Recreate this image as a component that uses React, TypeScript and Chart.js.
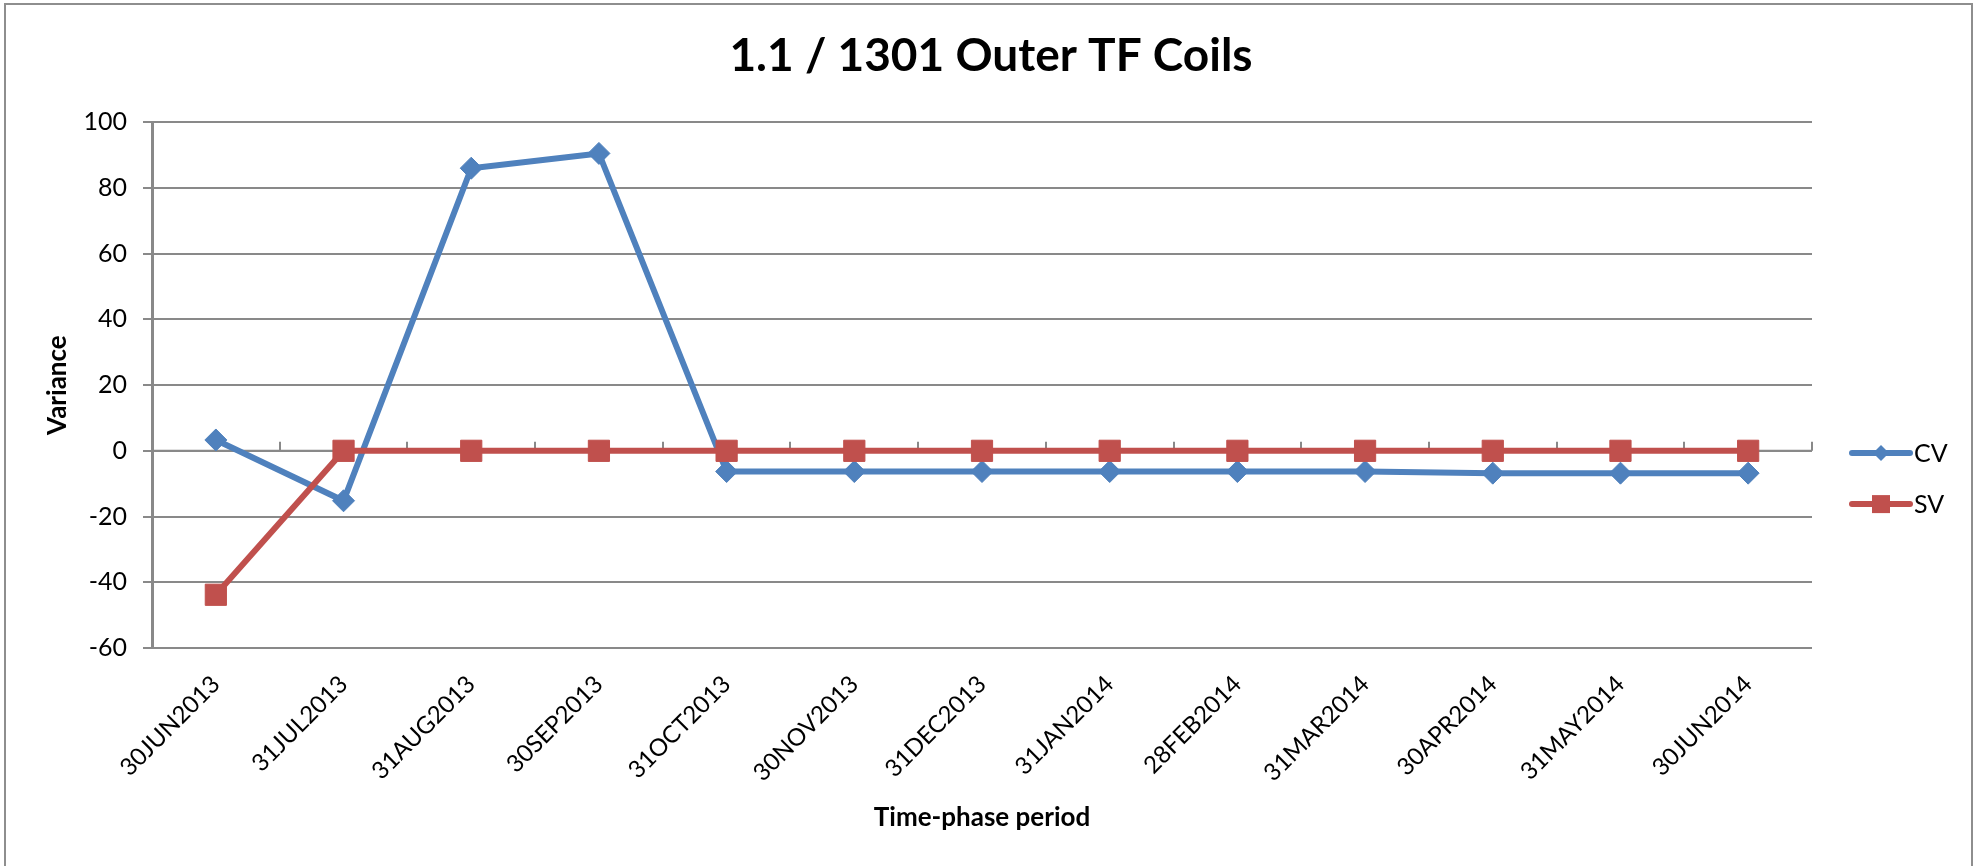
import React, { useEffect, useRef } from "react";
import { Chart, registerables } from "chart.js";

Chart.register(...registerables);

const categories = [
  "30JUN2013", "31JUL2013", "31AUG2013", "30SEP2013", "31OCT2013", "30NOV2013",
  "31DEC2013", "31JAN2014", "28FEB2014", "31MAR2014", "30APR2014", "31MAY2014", "30JUN2014",
];
const cvValues = [3.3, -15.2, 86, 90.5, -6.3, -6.3, -6.3, -6.3, -6.3, -6.3, -6.8, -6.8, -6.8];
const svValues = [-43.8, 0, 0, 0, 0, 0, 0, 0, 0, 0, 0, 0, 0];
const yMin = -60;
const yMax = 100;
const yStep = 20;

const CV_COLOR = "#4F81BD";
const SV_COLOR = "#C0504D";
const GRID = "#898989";
const FONT = "Lato, 'Open Sans', sans-serif";

const W = 1982;
const H = 866;

const framePlugin = {
  id: "frame",
  beforeDraw(chart: any) {
    const ctx = chart.ctx;
    ctx.save();
    ctx.fillStyle = "#ffffff";
    ctx.fillRect(0, 0, chart.width, chart.height);
    ctx.strokeStyle = "#8e8e8e";
    ctx.lineWidth = 2;
    ctx.strokeRect(5, 4, chart.width - 10 - 5, chart.height + 20);
    ctx.restore();
  },
};

const zeroAxisPlugin = {
  id: "zeroAxis",
  beforeDatasetsDraw(chart: any) {
    const { ctx, chartArea } = chart;
    const xs = chart.scales.x;
    const ys = chart.scales.y;
    const y0 = ys.getPixelForValue(0);
    const half = (xs.getPixelForValue(1) - xs.getPixelForValue(0)) / 2;
    ctx.save();
    ctx.strokeStyle = GRID;
    ctx.lineWidth = 2;
    ctx.beginPath();
    ctx.moveTo(chartArea.left, y0);
    ctx.lineTo(chartArea.right, y0);
    for (let i = 0; i <= categories.length; i++) {
      const x = Math.round(xs.getPixelForValue(i) - half);
      ctx.moveTo(x, y0);
      ctx.lineTo(x, y0 - 9);
    }
    ctx.stroke();
    ctx.restore();
  },
};

const legendPlugin = {
  id: "customLegend",
  afterDraw(chart: any) {
    const { ctx, chartArea } = chart;
    const x0 = chartArea.right + 40;
    const lineLen = 58;
    const cy = (chartArea.top + chartArea.bottom) / 2;
    const rows = [cy + 68, cy + 119];
    chart.data.datasets.forEach((ds: any, i: number) => {
      const y = rows[i];
      ctx.save();
      ctx.strokeStyle = ds.borderColor;
      ctx.lineWidth = 6;
      ctx.lineCap = "round";
      ctx.beginPath();
      ctx.moveTo(x0, y);
      ctx.lineTo(x0 + lineLen, y);
      ctx.stroke();
      ctx.fillStyle = ds.backgroundColor;
      const mx = x0 + lineLen / 2;
      ctx.beginPath();
      if (ds.pointStyle === "rectRot") {
        const r = 8;
        ctx.moveTo(mx - r, y);
        ctx.lineTo(mx, y - r);
        ctx.lineTo(mx + r, y);
        ctx.lineTo(mx, y + r);
        ctx.closePath();
      } else {
        const s = 9;
        ctx.rect(mx - s, y - s, 2 * s, 2 * s);
      }
      ctx.fill();
      ctx.fillStyle = "#000";
      ctx.font = `25px ${FONT}`;
      ctx.textAlign = "left";
      ctx.textBaseline = "middle";
      ctx.fillText(ds.label, x0 + lineLen + 4, y + 1);
      ctx.restore();
    });
  },
};

export default function App() {
  const ref = useRef<HTMLCanvasElement | null>(null);

  useEffect(() => {
    document.body.style.margin = "0";
    if (!ref.current) return;
    const chart = new Chart(ref.current, {
      type: "line",
      data: {
        labels: categories,
        datasets: [
          {
            label: "CV",
            data: cvValues,
            borderColor: CV_COLOR,
            backgroundColor: CV_COLOR,
            borderWidth: 6,
            pointStyle: "rectRot",
            pointRadius: 11,
            pointBorderWidth: 1,
            pointBackgroundColor: CV_COLOR,
            pointBorderColor: CV_COLOR,
            tension: 0,
            order: 1,
            clip: false,
          } as any,
          {
            label: "SV",
            data: svValues,
            borderColor: SV_COLOR,
            backgroundColor: SV_COLOR,
            borderWidth: 6,
            pointStyle: "rect",
            pointRadius: 15,
            pointBorderWidth: 1,
            pointBackgroundColor: SV_COLOR,
            pointBorderColor: SV_COLOR,
            tension: 0,
            order: 0,
            clip: false,
          } as any,
        ],
      },
      options: {
        animation: false,
        responsive: false,
        layout: { padding: { left: 0, right: 0, top: 0, bottom: 0 } },
        plugins: {
          legend: { display: false },
          tooltip: { enabled: false },
          title: {
            display: true,
            text: "1.1 / 1301 Outer TF Coils",
            color: "#000",
            font: { family: FONT, size: 46, weight: "bold" },
            padding: { top: 29, bottom: 38 },
          },
        },
        scales: {
          x: {
            type: "category",
            offset: true,
            grid: { display: false, drawTicks: false },
            border: { display: false },
            ticks: {
              color: "#000",
              font: { family: FONT, size: 24 },
              maxRotation: 45,
              minRotation: 45,
              autoSkip: false,
              padding: 22,
            },
            title: {
              display: true,
              text: "Time-phase period",
              color: "#000",
              font: { family: FONT, size: 26, weight: "bold" },
              padding: { top: 0, bottom: 33 },
            },
            afterFit(scale: any) {
              scale.height = 218;
            },
          },
          y: {
            type: "linear",
            min: yMin,
            max: yMax,
            ticks: {
              stepSize: yStep,
              color: "#000",
              font: { family: FONT, size: 25 },
              padding: 16,
            },
            grid: {
              color: GRID,
              lineWidth: 2,
              tickLength: 9,
              tickColor: GRID,
            },
            border: { display: true, color: GRID, width: 3 },
            title: {
              display: true,
              text: "Variance",
              color: "#000",
              font: { family: FONT, size: 26, weight: "bold" },
              padding: { top: 42, bottom: 0 },
            },
            afterFit(scale: any) {
              scale.width = 152;
            },
          },
          y2: {
            type: "linear",
            position: "right",
            display: true,
            ticks: { display: false },
            grid: { display: false, drawTicks: false },
            border: { display: false },
            afterFit(scale: any) {
              scale.width = 170;
            },
          },
        },
      },
      plugins: [framePlugin, zeroAxisPlugin, legendPlugin],
    });
    return () => chart.destroy();
  }, []);

  return (
    <div style={{ position: "absolute", left: 0, top: 0, width: W, height: H }}>
      <canvas ref={ref} width={W} height={H} style={{ width: W, height: H, display: "block" }} />
    </div>
  );
}
